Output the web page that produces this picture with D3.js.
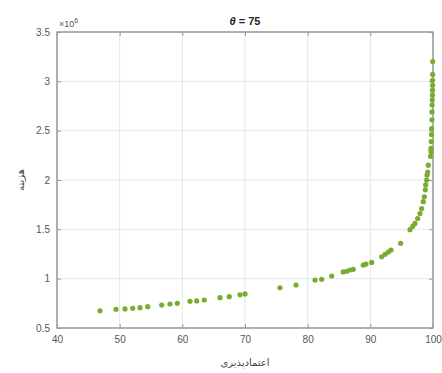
<!DOCTYPE html>
<html>
<head>
<meta charset="utf-8">
<script src="https://cdn.jsdelivr.net/npm/d3@7"></script>
<style>
  body { margin: 0; background: #fff; }
  svg { font-family: "Liberation Sans", Arial, sans-serif; }
</style>
</head>
<body>
<div id="chart"></div>
<script>
// داده‌ها: اعتمادپذیری (x) و هزینه (y, ×10^6)
const reliability = [
  46.86, 49.41, 50.85, 52.08, 53.24, 54.47, 56.71, 58.03, 59.20, 61.22, 62.29, 63.50,
  66.01, 67.49, 69.20, 70.00, 75.58, 78.14, 81.17, 82.24, 83.83, 85.68, 86.23, 86.75,
  87.28, 88.88, 89.31, 90.22, 91.81, 92.34, 92.87, 93.30, 94.84, 96.33, 96.76, 97.12,
  97.55, 97.92, 98.19, 98.45, 98.61, 98.77, 98.83, 98.99, 99.04, 99.15, 99.25, 99.60,
  99.68, 99.68, 99.72, 99.76, 99.79, 99.84, 99.84, 99.86, 99.88, 99.90, 99.92, 99.93,
  99.94, 99.95, 99.95
];
const cost = [
  0.675, 0.690, 0.693, 0.700, 0.706, 0.716, 0.733, 0.743, 0.750, 0.771, 0.774, 0.784,
  0.807, 0.817, 0.837, 0.845, 0.908, 0.936, 0.986, 0.993, 1.027, 1.068, 1.075, 1.088,
  1.095, 1.138, 1.148, 1.165, 1.222, 1.247, 1.270, 1.290, 1.358, 1.497, 1.530, 1.560,
  1.610, 1.660, 1.710, 1.780, 1.830, 1.900, 1.950, 2.000, 2.050, 2.080, 2.150, 2.240,
  2.290, 2.320, 2.390, 2.460, 2.520, 2.610, 2.690, 2.760, 2.810, 2.860, 2.910, 2.960,
  3.010, 3.070, 3.200
];
const xTicks = [40, 50, 60, 70, 80, 90, 100];
const yTicks = [0.5, 1, 1.5, 2, 2.5, 3, 3.5];

const W = 442, H = 373;
const margin = { top: 32, right: 9, bottom: 45, left: 57 };
const iw = W - margin.left - margin.right,
      ih = H - margin.top - margin.bottom;

const svg = d3.select("#chart").append("svg")
    .attr("width", W)
    .attr("height", H);

const g = svg.append("g")
    .attr("transform", `translate(${margin.left},${margin.top})`);

const x = d3.scaleLinear().domain([40, 100]).range([0, iw]);
const y = d3.scaleLinear().domain([0.5, 3.5]).range([ih, 0]);

// خطوط شبکه
g.append("g").selectAll("line").data(xTicks).join("line")
    .attr("x1", d => x(d)).attr("x2", d => x(d))
    .attr("y1", 0).attr("y2", ih)
    .attr("stroke", "#e6e6e6");
g.append("g").selectAll("line").data(yTicks).join("line")
    .attr("x1", 0).attr("x2", iw)
    .attr("y1", d => y(d)).attr("y2", d => y(d))
    .attr("stroke", "#e6e6e6");

// محورها
const axisColor = "#9a9a9a", textColor = "#555";
function styleAxis(sel) {
    sel.select(".domain").remove();
    sel.selectAll(".tick line").attr("stroke", axisColor);
    sel.selectAll(".tick text").attr("fill", textColor).attr("font-size", 10);
}
g.append("g").attr("transform", `translate(0,${ih})`)
    .call(d3.axisBottom(x).tickValues(xTicks).tickSizeInner(-4).tickSizeOuter(0).tickPadding(8))
    .call(styleAxis);
g.append("g")
    .call(d3.axisLeft(y).tickValues(yTicks).tickFormat(d => String(d))
        .tickSizeInner(-4).tickSizeOuter(0).tickPadding(7))
    .call(styleAxis);
g.append("g")
    .call(d3.axisTop(x).tickValues(xTicks).tickSizeInner(-4).tickSizeOuter(0).tickFormat(""))
    .call(styleAxis);
g.append("g").attr("transform", `translate(${iw},0)`)
    .call(d3.axisRight(y).tickValues(yTicks).tickSizeInner(-4).tickSizeOuter(0).tickFormat(""))
    .call(styleAxis);

g.append("rect")
    .attr("width", iw).attr("height", ih)
    .attr("fill", "none")
    .attr("stroke", axisColor)
    .attr("stroke-width", 1.5);

// نقاط
const points = reliability.map((r, i) => ({ r, c: cost[i] }));
g.append("g").selectAll("circle").data(points).join("circle")
    .attr("cx", d => x(d.r))
    .attr("cy", d => y(d.c))
    .attr("r", 2.6)
    .attr("fill", "#77ac30");

// ضریب ×10^6
const ex = g.append("text")
    .attr("x", 2).attr("y", -5)
    .attr("font-size", 9)
    .attr("fill", textColor);
ex.append("tspan").text("×10");
ex.append("tspan").attr("dy", -4).attr("font-size", 7).text("6");

// عنوان
const title = svg.append("text")
    .attr("x", margin.left + iw / 2).attr("y", 25)
    .attr("text-anchor", "middle")
    .attr("font-size", 11)
    .attr("font-weight", "bold")
    .attr("fill", "#222");
title.append("tspan").attr("font-style", "italic").text("θ");
title.append("tspan").text(" = 75");

// برچسب محورها
svg.append("text")
    .attr("x", margin.left + iw / 2).attr("y", 366)
    .attr("text-anchor", "middle")
    .attr("font-family", "DejaVu Sans")
    .attr("font-size", 10)
    .attr("fill", "#444")
    .text("اعتمادپذیری");

svg.append("text")
    .attr("transform", `translate(24,${margin.top + ih / 2}) rotate(-90)`)
    .attr("text-anchor", "middle")
    .attr("font-family", "DejaVu Sans")
    .attr("font-size", 10)
    .attr("fill", "#444")
    .text("هزینه");
</script>
</body>
</html>
